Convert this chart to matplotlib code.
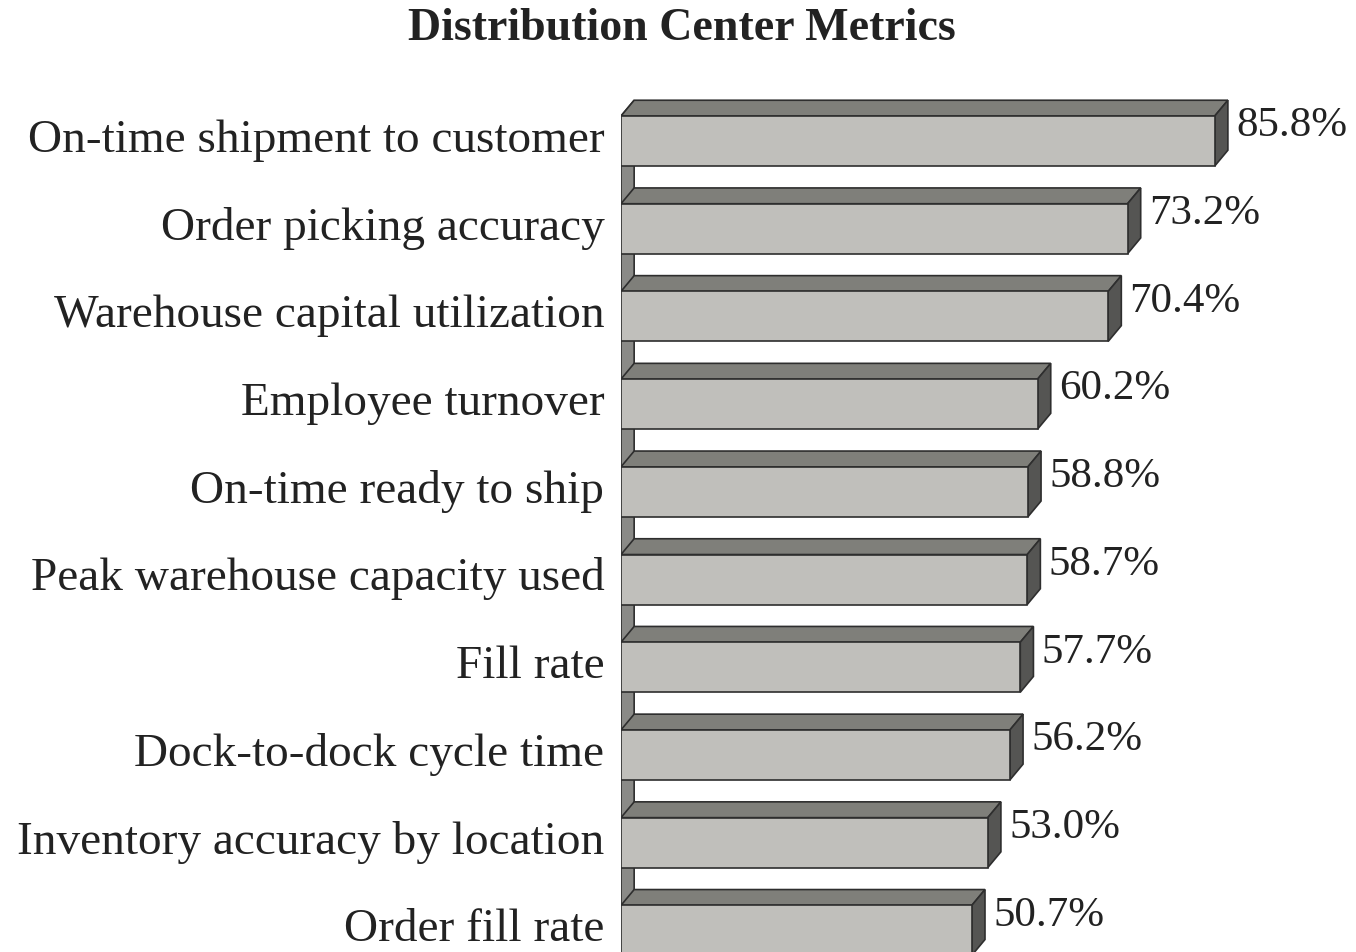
import matplotlib
matplotlib.use("Agg")
import matplotlib.pyplot as plt
from matplotlib.patches import Polygon
from matplotlib.transforms import ScaledTranslation

categorias = [
    "On-time shipment to customer",
    "Order picking accuracy",
    "Warehouse capital utilization",
    "Employee turnover",
    "On-time ready to ship",
    "Peak warehouse capacity used",
    "Fill rate",
    "Dock-to-dock cycle time",
    "Inventory accuracy by location",
    "Order fill rate",
]
valores = [85.8, 73.2, 70.4, 60.2, 58.8, 58.7, 57.7, 56.2, 53.0, 50.7]

plt.rcParams["font.family"] = ["Liberation Serif", "DejaVu Serif"]

COR_FRENTE = "#c0bfbb"
COR_TOPO = "#7f7f7a"
COR_LADO = "#555553"
COR_PAREDE = "#8a8a87"
COR_BORDA = "#2e2e2e"

ALTURA = 0.57   # altura da face frontal (em unidades de categoria)
DX = 1.9        # profundidade 3D em x (unidades de valor)
DY = 0.18       # profundidade 3D em y

fig = plt.figure(figsize=(13.56, 9.52), dpi=100)
ax = fig.add_axes([621 / 1356, 0, 735 / 1356, 1])
ax.set_xlim(0, 735 / 6.92)
ax.set_ylim(9.247, -1.608)

# parede lateral (fundo)
topo_parede = -ALTURA / 2 - DY
ax.add_patch(Polygon([(0, topo_parede + DY), (DX, topo_parede), (DX, 9.3), (0, 9.3)],
                     closed=True, facecolor=COR_PAREDE, edgecolor=COR_BORDA,
                     linewidth=1.2, zorder=1))

for i, v in enumerate(valores):
    y0 = i - ALTURA / 2
    y1 = i + ALTURA / 2
    frente = [(0, y0), (v, y0), (v, y1), (0, y1)]
    topo = [(0, y0), (v, y0), (v + DX, y0 - DY), (DX, y0 - DY)]
    lado = [(v, y0), (v + DX, y0 - DY), (v + DX, y1 - DY), (v, y1)]
    for pts, cor in ((topo, COR_TOPO), (lado, COR_LADO), (frente, COR_FRENTE)):
        ax.add_patch(Polygon(pts, closed=True, facecolor=cor, edgecolor=COR_BORDA,
                             linewidth=1.2, joinstyle="miter", zorder=2))
    ax.text(v + DX + 1.2, i - 0.17, f"{v:.1f}%", fontsize=31, va="center",
            ha="left", color="#222222", zorder=3)

ax.set_yticks(range(len(categorias)))
ax.set_yticklabels(categorias, fontsize=34, color="#222222")
ax.tick_params(axis="y", length=0, pad=12)
# sobe um pouco os rótulos (como no original)
desloc = ScaledTranslation(0, 4 / 72, fig.dpi_scale_trans)
for rot in ax.get_yticklabels():
    rot.set_transform(rot.get_transform() + desloc)
ax.set_xticks([])
for s in ax.spines.values():
    s.set_visible(False)
ax.patch.set_visible(False)

fig.text(682 / 1356, 1 - 29 / 952, "Distribution Center Metrics", fontsize=33,
         fontweight="bold", ha="center", va="center", color="#222222")

fig.savefig("out.png", dpi=100)
